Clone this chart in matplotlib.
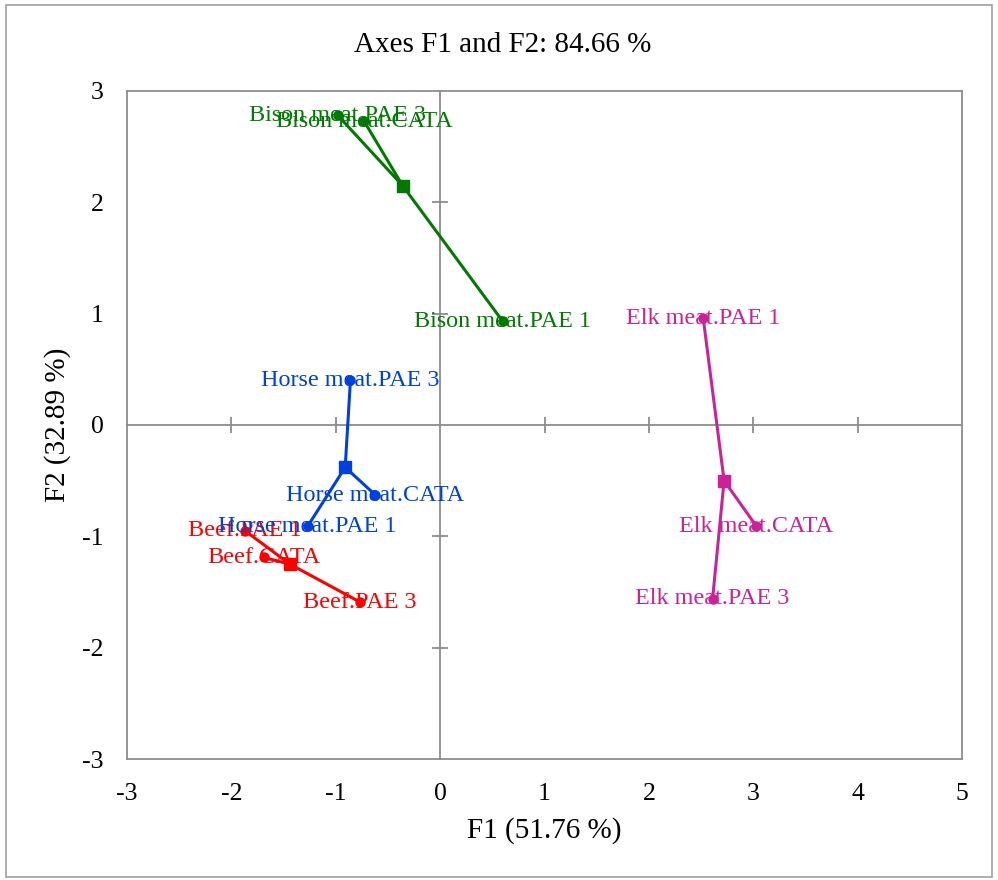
import matplotlib
matplotlib.use("Agg")
import matplotlib.pyplot as plt
from matplotlib.patches import Rectangle

plt.rcParams['font.family'] = ['Liberation Serif', 'DejaVu Serif']
plt.rcParams['axes.unicode_minus'] = False

# group centres (squares) and their observations (circles)
groups = ['Beef', 'Horse meat', 'Bison meat', 'Elk meat']
colors = ['#ff0000', '#0040e0', '#007a00', '#cc2299']
centre_x = [-1.44, -0.91, -0.36, 2.72]
centre_y = [-1.25, -0.38, 2.15, -0.50]
obs_names = ['PAE 1', 'CATA', 'PAE 3']
obs_x = [[-1.87, -1.69, -0.77],
         [-1.27, -0.62, -0.86],
         [0.60, -0.73, -0.98],
         [2.52, 3.03, 2.61]]
obs_y = [[-0.95, -1.19, -1.59],
         [-0.91, -0.63, 0.40],
         [0.93, 2.73, 2.78],
         [0.96, -0.91, -1.56]]
xticks = [-3, -2, -1, 0, 1, 2, 3, 4, 5]
yticks = [-3, -2, -1, 0, 1, 2, 3]

fig = plt.figure(figsize=(9.98, 8.8), dpi=100)
fig.patches.append(Rectangle((0.006, 0.003), 0.988, 0.991, transform=fig.transFigure,
                             fill=False, edgecolor='#a0a0a0', lw=1.2))
pos = [0.1273, 0.1375, 0.8367, 0.7591]
ax = fig.add_axes(pos)
ax.set_xlim(-3, 5)
ax.set_ylim(-3, 3)
ax.set_xticks(xticks)
ax.set_yticks(yticks)
ax.tick_params(length=0, labelsize=18.5)
ax.tick_params(axis='y', pad=17)
ax.tick_params(axis='x', pad=17)
for s in ax.spines.values():
    s.set_color('#8c8c8c')
    s.set_linewidth(1.3)
ax.set_xlabel('F1 (51.76 %)', fontsize=21, labelpad=9)
ax.set_ylabel('F2 (32.89 %)', fontsize=21, labelpad=8)
fig.text(0.504, 1 - 45 / 880, 'Axes F1 and F2: 84.66 %', fontsize=21,
         ha='center', va='center')

# zero lines with crossing ticks
ax0 = fig.add_axes(pos)
ax0.set_xlim(-3, 5)
ax0.set_ylim(-3, 3)
ax0.patch.set_visible(False)
ax0.spines['top'].set_visible(False)
ax0.spines['right'].set_visible(False)
ax0.spines['left'].set_position(('data', 0))
ax0.spines['bottom'].set_position(('data', 0))
for s in ['left', 'bottom']:
    ax0.spines[s].set_color('#8c8c8c')
    ax0.spines[s].set_linewidth(1.3)
ax0.tick_params(direction='inout', length=12, width=1.3, color='#8c8c8c',
                labelbottom=False, labelleft=False)
ax0.set_xticks([t for t in xticks if t not in (0, -3, 5)])
ax0.set_yticks([t for t in yticks if t not in (0, -3, 3)])

for g, c, cx, cy, ox, oy in zip(groups, colors, centre_x, centre_y, obs_x, obs_y):
    for n, px, py in zip(obs_names, ox, oy):
        ax0.plot([cx, px], [cy, py], color=c, lw=2.2, zorder=3)
        ax0.plot(px, py, 'o', color=c, ms=6.5, zorder=4)
        ax0.text(px, py, g + '.' + n, color=c, fontsize=17.4,
                 ha='center', va='center', zorder=5)
    ax0.plot(cx, cy, 's', color=c, ms=8.5, zorder=4)

fig.savefig('out.png', dpi=100)
